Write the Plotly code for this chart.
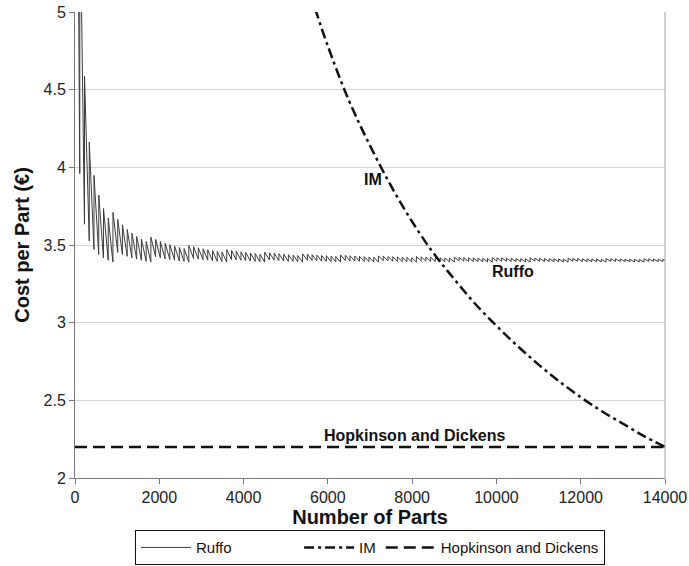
import plotly.graph_objects as go

# ---- Ruffo: cost per part at each layer boundary (trough) and just after it (peak)
ruffo_start_parts = [60, 85]
ruffo_start_cost = [6.20, 4.79]

ruffo_edges = [
    113, 225, 338, 450, 563, 675, 788, 900,
    1013, 1125, 1238, 1350, 1463, 1575, 1688, 1800,
    1913, 2025, 2138, 2250, 2363, 2475, 2588, 2700,
    2813, 2925, 3038, 3150, 3263, 3375, 3488, 3600,
    3713, 3825, 3938, 4050, 4163, 4275, 4388, 4500,
    4613, 4725, 4838, 4950, 5063, 5175, 5288, 5400,
    5513, 5625, 5738, 5850, 5963, 6075, 6188, 6300,
    6413, 6525, 6638, 6750, 6863, 6975, 7088, 7200,
    7313, 7425, 7538, 7650, 7763, 7875, 7988, 8100,
    8213, 8325, 8438, 8550, 8663, 8775, 8888, 9000,
    9113, 9225, 9338, 9450, 9563, 9675, 9788, 9900,
    10013, 10125, 10238, 10350, 10463, 10575, 10688, 10800,
    10913, 11025, 11138, 11250, 11363, 11475, 11588, 11700,
    11813, 11925, 12038, 12150, 12263, 12375, 12488, 12600,
    12713, 12825, 12938, 13050, 13163, 13275, 13388, 13500,
    13613, 13725, 13838, 13950,
]
ruffo_trough = [
    3.960, 3.634, 3.526, 3.471, 3.439, 3.417, 3.402, 3.390,
    3.453, 3.439, 3.427, 3.417, 3.409, 3.402, 3.395, 3.390,
    3.424, 3.417, 3.411, 3.406, 3.402, 3.397, 3.394, 3.390,
    3.413, 3.409, 3.405, 3.402, 3.398, 3.395, 3.393, 3.390,
    3.407, 3.404, 3.402, 3.399, 3.397, 3.394, 3.392, 3.390,
    3.404, 3.402, 3.399, 3.397, 3.395, 3.394, 3.392, 3.390,
    3.402, 3.400, 3.398, 3.396, 3.395, 3.393, 3.392, 3.390,
    3.400, 3.398, 3.397, 3.395, 3.394, 3.393, 3.391, 3.390,
    3.399, 3.397, 3.396, 3.395, 3.394, 3.392, 3.391, 3.390,
    3.398, 3.397, 3.395, 3.394, 3.393, 3.392, 3.391, 3.390,
    3.397, 3.396, 3.395, 3.394, 3.393, 3.392, 3.391, 3.390,
    3.396, 3.395, 3.395, 3.394, 3.393, 3.392, 3.391, 3.390,
    3.396, 3.395, 3.394, 3.393, 3.392, 3.392, 3.391, 3.390,
    3.395, 3.395, 3.394, 3.393, 3.392, 3.392, 3.391, 3.390,
    3.395, 3.394, 3.394, 3.393, 3.392, 3.391, 3.391, 3.390,
    3.395, 3.394, 3.393, 3.393,
]
ruffo_peak = [
    5.868, 4.588, 4.162, 3.948, 3.821, 3.735, 3.674, 3.710,
    3.665, 3.630, 3.600, 3.576, 3.555, 3.538, 3.523, 3.550,
    3.536, 3.523, 3.512, 3.502, 3.493, 3.484, 3.477, 3.497,
    3.489, 3.482, 3.476, 3.470, 3.464, 3.459, 3.454, 3.470,
    3.465, 3.460, 3.456, 3.452, 3.448, 3.445, 3.441, 3.454,
    3.450, 3.447, 3.444, 3.441, 3.438, 3.435, 3.432, 3.443,
    3.441, 3.438, 3.435, 3.433, 3.431, 3.428, 3.426, 3.436,
    3.434, 3.431, 3.429, 3.427, 3.425, 3.423, 3.422, 3.430,
    3.428, 3.426, 3.425, 3.423, 3.421, 3.420, 3.418, 3.426,
    3.424, 3.422, 3.421, 3.419, 3.418, 3.417, 3.415, 3.422,
    3.421, 3.419, 3.418, 3.417, 3.415, 3.414, 3.413, 3.419,
    3.418, 3.417, 3.416, 3.414, 3.413, 3.412, 3.411, 3.417,
    3.416, 3.415, 3.413, 3.412, 3.411, 3.410, 3.409, 3.415,
    3.414, 3.413, 3.412, 3.411, 3.410, 3.409, 3.408, 3.413,
    3.412, 3.411, 3.410, 3.409, 3.408, 3.408, 3.407, 3.411,
    3.411, 3.410, 3.409, 3.408,
]
ruffo_end_parts = [14000]
ruffo_end_cost = [3.401]

# ---- Injection moulding (IM)
im_parts = [5700, 6000, 6500, 7000, 7500, 8000, 8500, 9000, 9500, 10000,
            10500, 11000, 11500, 12000, 12500, 13000, 13500, 14000]
im_cost = [5.02, 4.78, 4.43, 4.14, 3.88, 3.65, 3.45, 3.28, 3.12, 2.98,
           2.85, 2.73, 2.62, 2.52, 2.43, 2.35, 2.27, 2.20]

# ---- Hopkinson and Dickens
hd_parts = [0, 14000]
hd_cost = [2.2, 2.2]

x_ticks = [0, 2000, 4000, 6000, 8000, 10000, 12000, 14000]
y_ticks = [2, 2.5, 3, 3.5, 4, 4.5, 5]

# Sawtooth path: drop to each trough, then jump up to the peak of the next layer
rx = list(ruffo_start_parts)
ry = list(ruffo_start_cost)
for n, t, p in zip(ruffo_edges, ruffo_trough, ruffo_peak):
    rx += [n, n + 1]
    ry += [t, p]
rx += ruffo_end_parts
ry += ruffo_end_cost

FONT = "Liberation Sans, Arial, Helvetica, sans-serif"
NB = "\u00a0"

fig = go.Figure()
fig.add_trace(go.Scatter(
    x=rx, y=ry, mode="lines", name="Ruffo" + NB * 15,
    line=dict(color="#3c3c3c", width=1),
))
fig.add_trace(go.Scatter(
    x=im_parts, y=im_cost, mode="lines", name="IM",
    line=dict(color="#111111", width=2.5, dash="10px,4px,3px,4px", shape="spline"),
))
fig.add_trace(go.Scatter(
    x=hd_parts, y=hd_cost, mode="lines", name="Hopkinson and Dickens",
    line=dict(color="#111111", width=2.5, dash="12px,6px"),
))

label_font = dict(family=FONT, size=16, color="#111111", weight="bold")
fig.add_annotation(x=7060, y=3.92, text="IM", showarrow=False, font=label_font)
fig.add_annotation(x=10390, y=3.33, text="Ruffo", showarrow=False, font=label_font)
fig.add_annotation(x=8060, y=2.275, text="Hopkinson and Dickens", showarrow=False, font=label_font)

# right-hand frame edge of the plot area
fig.add_shape(type="line", xref="paper", yref="paper", x0=1, x1=1, y0=0, y1=1,
              line=dict(color="#a0a0a0", width=1))

fig.update_layout(
    width=689, height=566,
    margin=dict(l=75, r=24, t=12, b=88, autoexpand=False),
    paper_bgcolor="white", plot_bgcolor="white",
    font=dict(family=FONT, size=16, color="#222222"),
    showlegend=True,
    legend=dict(
        orientation="h", x=0.5, xanchor="center", y=-0.112, yanchor="top",
        bordercolor="#111111", borderwidth=1, bgcolor="white",
        font=dict(family=FONT, size=15, color="#111111"),
        itemwidth=50, tracegroupgap=0,
    ),
    xaxis=dict(
        range=[0, 14000], tickvals=x_ticks, ticktext=[str(v) for v in x_ticks],
        showgrid=False, zeroline=False, automargin=False,
        showline=True, linecolor="#777777", linewidth=1,
        ticks="outside", ticklen=5, tickcolor="#777777",
        tickfont=dict(family=FONT, size=16, color="#222222"),
        title=dict(text="Number of Parts", standoff=4,
                   font=dict(family=FONT, size=20, color="#111111", weight="bold")),
    ),
    yaxis=dict(
        range=[2, 5], tickvals=y_ticks, ticktext=[str(v) for v in y_ticks],
        showgrid=True, gridcolor="#d4d4d4", gridwidth=1, zeroline=False, automargin=False,
        showline=True, linecolor="#777777", linewidth=1,
        ticks="outside", ticklen=5, tickcolor="#777777",
        tickfont=dict(family=FONT, size=16, color="#222222"),
        title=dict(text="Cost per Part (€)", standoff=8,
                   font=dict(family=FONT, size=20, color="#111111", weight="bold")),
    ),
)

fig.write_html("out.html")
